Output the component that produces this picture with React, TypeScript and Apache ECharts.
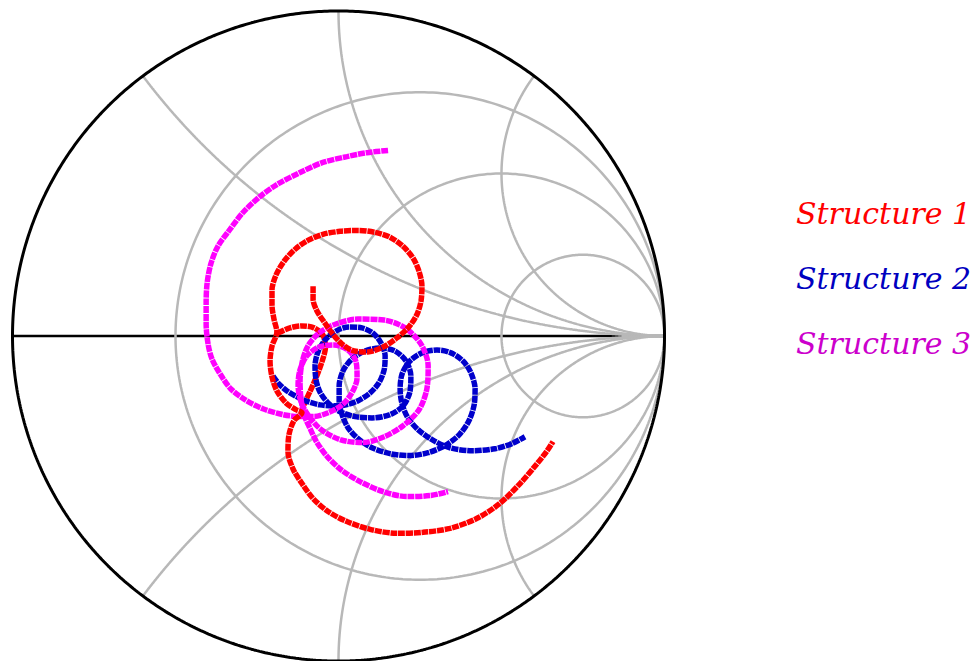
import React, { useEffect, useRef } from "react";
import * as echarts from "echarts";

// Reflection-coefficient (Γ) coordinates: [Re, Im]
const structure1Main: number[][] = [
  [-0.078, 0.153], [-0.078, 0.113], [-0.066, 0.077], [-0.044, 0.043], [-0.02, 0.009],
  [0.011, -0.025], [0.048, -0.046], [0.09, -0.049], [0.137, -0.034], [0.179, -0.006],
  [0.216, 0.028], [0.241, 0.067], [0.253, 0.107], [0.256, 0.153], [0.247, 0.199],
  [0.229, 0.239], [0.198, 0.276], [0.158, 0.304], [0.112, 0.319], [0.06, 0.325],
  [0.005, 0.322], [-0.048, 0.313], [-0.094, 0.294], [-0.133, 0.267], [-0.167, 0.23],
  [-0.192, 0.187], [-0.204, 0.141], [-0.204, 0.095], [-0.198, 0.052], [-0.189, 0.012],
  [-0.204, -0.031], [-0.21, -0.077], [-0.204, -0.126], [-0.189, -0.169], [-0.161, -0.206],
  [-0.13, -0.227], [-0.112, -0.236], [-0.137, -0.261], [-0.152, -0.304], [-0.155, -0.356],
  [-0.14, -0.408], [-0.112, -0.454], [-0.078, -0.5], [-0.032, -0.54], [0.026, -0.571],
  [0.097, -0.595], [0.179, -0.607], [0.259, -0.604], [0.342, -0.592], [0.425, -0.561],
  [0.495, -0.515], [0.557, -0.454], [0.609, -0.393], [0.64, -0.353], [0.658, -0.325],
];
const structure1Loop: number[][] = [
  [-0.186, 0.009], [-0.149, 0.025], [-0.112, 0.031], [-0.075, 0.025], [-0.048, 0.003],
  [-0.04, -0.034], [-0.05, -0.077], [-0.068, -0.126], [-0.088, -0.172], [-0.105, -0.209],
  [-0.112, -0.233],
];
const structure2: number[][] = [
  [-0.201, -0.123], [-0.183, -0.147], [-0.158, -0.169], [-0.127, -0.187], [-0.094, -0.202],
  [-0.057, -0.212], [-0.017, -0.215], [0.023, -0.212], [0.06, -0.199], [0.097, -0.175],
  [0.124, -0.144], [0.14, -0.104], [0.143, -0.061], [0.13, -0.021], [0.106, 0.009],
  [0.072, 0.025], [0.032, 0.028], [-0.008, 0.015], [-0.041, -0.012], [-0.063, -0.049],
  [-0.072, -0.092], [-0.069, -0.135], [-0.057, -0.172], [-0.032, -0.206], [0.005, -0.233],
  [0.051, -0.248], [0.103, -0.252], [0.158, -0.242], [0.198, -0.215], [0.219, -0.172],
  [0.222, -0.123], [0.207, -0.077], [0.173, -0.046], [0.127, -0.037], [0.081, -0.046],
  [0.041, -0.071], [0.014, -0.107], [0.002, -0.153], [0.002, -0.199], [0.011, -0.242],
  [0.029, -0.282], [0.06, -0.316], [0.103, -0.344], [0.158, -0.362], [0.216, -0.368],
  [0.275, -0.359], [0.327, -0.337], [0.37, -0.304], [0.4, -0.261], [0.416, -0.212],
  [0.419, -0.163], [0.406, -0.113], [0.382, -0.077], [0.345, -0.052], [0.302, -0.043],
  [0.256, -0.052], [0.219, -0.077], [0.195, -0.117], [0.189, -0.163], [0.195, -0.209],
  [0.213, -0.252], [0.244, -0.288], [0.287, -0.319], [0.342, -0.344], [0.41, -0.353],
  [0.48, -0.347], [0.532, -0.331], [0.572, -0.31],
];
const structure3: number[][] = [
  [0.152, 0.571], [0.087, 0.564], [0.026, 0.552], [-0.048, 0.534], [-0.118, 0.503],
  [-0.189, 0.466], [-0.241, 0.429], [-0.293, 0.38], [-0.333, 0.328], [-0.37, 0.276],
  [-0.391, 0.224], [-0.403, 0.163], [-0.406, 0.101], [-0.406, 0.037], [-0.4, -0.025],
  [-0.388, -0.071], [-0.363, -0.117], [-0.33, -0.163], [-0.287, -0.196], [-0.232, -0.224],
  [-0.17, -0.242], [-0.118, -0.248], [-0.075, -0.248], [-0.032, -0.236], [0.011, -0.212],
  [0.041, -0.175], [0.057, -0.129], [0.054, -0.08], [0.029, -0.043], [-0.014, -0.028],
  [-0.06, -0.034], [-0.097, -0.061], [-0.118, -0.104], [-0.124, -0.15], [-0.118, -0.193],
  [-0.1, -0.233], [-0.057, -0.285], [0.005, -0.319], [0.075, -0.328], [0.14, -0.31],
  [0.198, -0.276], [0.247, -0.227], [0.271, -0.163], [0.275, -0.092], [0.253, -0.025],
  [0.204, 0.025], [0.14, 0.049], [0.06, 0.052], [-0.008, 0.037], [-0.06, 0.009],
  [-0.094, -0.031], [-0.112, -0.083], [-0.118, -0.141], [-0.115, -0.193], [-0.106, -0.242],
  [-0.087, -0.285], [-0.066, -0.328], [-0.032, -0.374], [0.011, -0.414], [0.066, -0.448],
  [0.137, -0.479], [0.21, -0.494], [0.281, -0.491], [0.336, -0.479],
];

const seriesNames = ["Structure 1", "Structure 2", "Structure 3"];
const seriesColors = ["#ff0000", "#0000cc", "#ff00ff"];
const labelColors = ["#ff0000", "#0000c0", "#cc00cc"];

// Smith chart grid values
const resistanceValues = [1 / 3, 1, 3];
const reactanceValues = [0.5, 1, 2, -0.5, -1, -2];

function resistanceCircle(r: number): number[][] {
  const c = r / (1 + r);
  const rad = 1 / (1 + r);
  const pts: number[][] = [];
  for (let i = 0; i <= 360; i++) {
    const a = (i * Math.PI) / 180;
    pts.push([c + rad * Math.cos(a), rad * Math.sin(a)]);
  }
  return pts;
}
function reactanceArc(x: number): number[][] {
  const pts: number[][] = [];
  for (let i = 0; i <= 600; i++) {
    const t = i / 600;
    const r = t >= 1 ? 1e9 : t / (1 - t);
    const den = (r + 1) * (r + 1) + x * x;
    pts.push([(r * r - 1 + x * x) / den, (2 * x) / den]);
  }
  return pts;
}
function unitCircle(): number[][] {
  const pts: number[][] = [];
  for (let i = 0; i <= 720; i++) {
    const a = (i * Math.PI) / 360;
    pts.push([Math.cos(a), Math.sin(a)]);
  }
  return pts;
}

export default function App() {
  const ref = useRef<HTMLDivElement>(null);
  useEffect(() => {
    if (!ref.current) return;
    const chart = echarts.init(ref.current, null, { renderer: "svg" });
    const base = {
      type: "line" as const,
      showSymbol: false,
      symbol: "none",
      silent: true,
      animation: false,
      clip: false,
    };
    const gray = { color: "#b8b8b8", width: 2.5 };
    const series: any[] = [];
    series.push({ ...base, data: [[-1, 0], [1, 0]], lineStyle: { color: "#000", width: 2.5 } });
    resistanceValues.forEach((r) =>
      series.push({ ...base, data: resistanceCircle(r), lineStyle: gray })
    );
    reactanceValues.forEach((x) =>
      series.push({ ...base, data: reactanceArc(x), lineStyle: gray })
    );
    series.push({ ...base, data: unitCircle(), lineStyle: { color: "#000", width: 3 } });
    const trace = (name: string, data: number[][], color: string) => ({
      ...base,
      name,
      data,
      smooth: 0.3,
      lineStyle: { color, width: 5.5, type: [7, 0.8], cap: "butt" },
    });
    series.push(trace(seriesNames[0], structure1Loop, seriesColors[0]));
    series.push(trace(seriesNames[1], structure2, seriesColors[1]));
    series.push(trace(seriesNames[2], structure3, seriesColors[2]));
    series.push(trace(seriesNames[0], structure1Main, seriesColors[0]));

    chart.setOption({
      animation: false,
      backgroundColor: "#ffffff",
      grid: { left: 12.5, top: 11, width: 652, height: 652 },
      xAxis: { type: "value", min: -1, max: 1, show: false },
      yAxis: { type: "value", min: -1, max: 1, show: false },
      series,
      graphic: seriesNames.map((name, i) => ({
        type: "text",
        x: 796,
        y: 213 + i * 65,
        style: {
          text: name,
          fill: labelColors[i],
          font: "italic 30px 'DejaVu Serif'",
          verticalAlign: "middle",
        },
      })),
    });
    return () => chart.dispose();
  }, []);
  return (
    <div
      ref={ref}
      style={{ position: "fixed", left: 0, top: 0, width: 975, height: 661, background: "#fff" }}
    />
  );
}
